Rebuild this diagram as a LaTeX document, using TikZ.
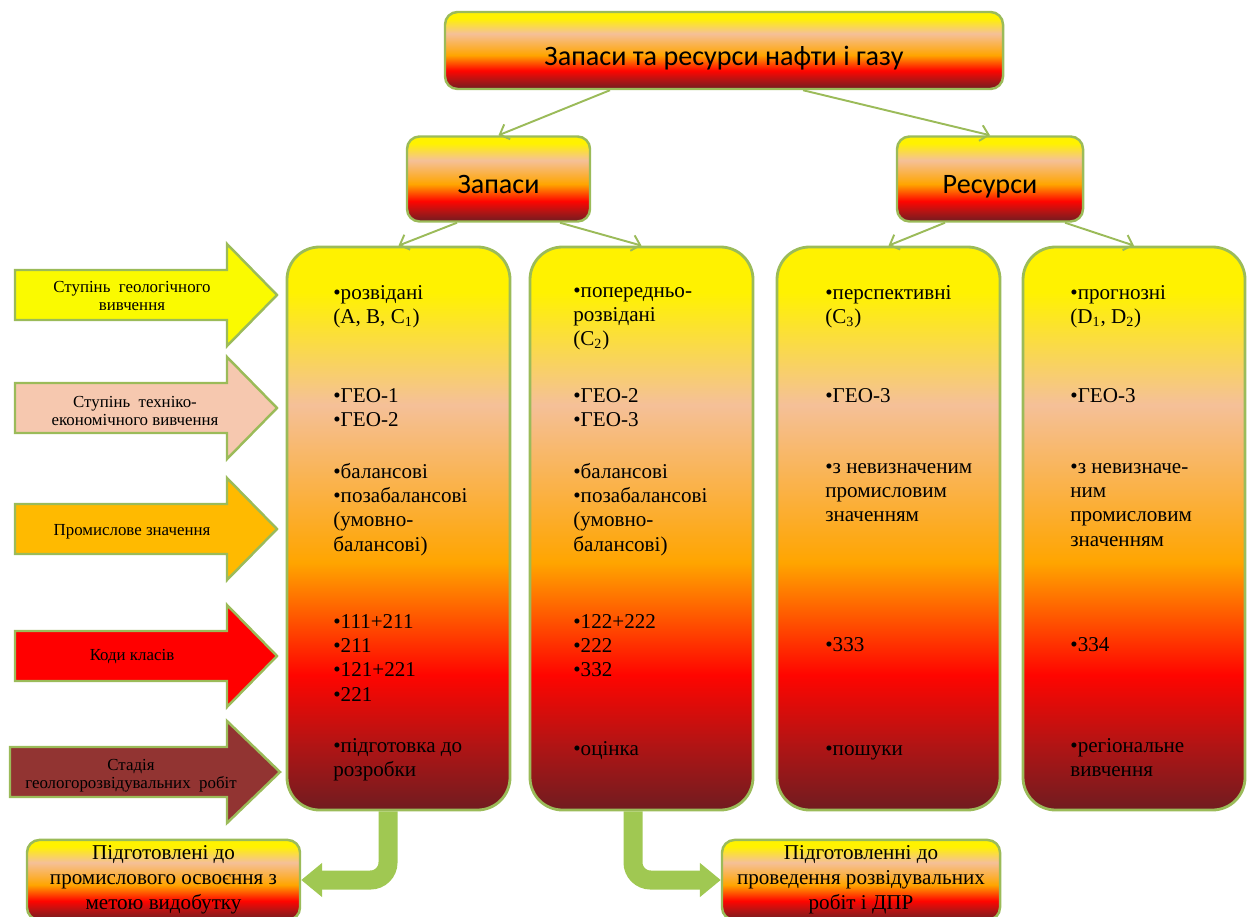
\documentclass[tikz,border=0pt]{standalone}
\usepackage{fontspec}
\setmainfont{Liberation Serif}
\newfontfamily\headfont{Carlito}
\definecolor{linegreen}{RGB}{155,187,89}
\definecolor{bendgreen}{RGB}{160,200,82}
\definecolor{gyellow}{RGB}{255,242,0}
\definecolor{gpeach}{RGB}{245,192,152}
\definecolor{gorange}{RGB}{255,165,0}
\definecolor{gred}{RGB}{255,5,0}
\definecolor{gdark}{RGB}{180,20,20}
\definecolor{gmaroon}{RGB}{112,28,32}
\definecolor{arryellow}{RGB}{250,250,0}
\definecolor{arrpeach}{RGB}{246,200,175}
\definecolor{arrorange}{RGB}{255,186,0}
\definecolor{arrred}{RGB}{255,0,0}
\definecolor{arrmaroon}{RGB}{146,52,50}
\usepackage{tikz}
\usetikzlibrary{arrows.meta, calc}
\pgfdeclareverticalshading{oilgrad}{100bp}{color(0bp)=(gmaroon); color(25bp)=(gmaroon);
  color(31bp)=(gdark); color(37bp)=(gred); color(47bp)=(gorange); color(61bp)=(gpeach);
  color(71bp)=(gyellow); color(100bp)=(gyellow)}

\begin{document}
\begin{tikzpicture}[
  link/.style={-{Straight Barb[length=1.6mm, width=3.2mm]}, line width=1.1pt, linegreen},
  hbox/.style={draw=linegreen, line width=1.4pt, rounded corners=2.5mm, shade, shading=oilgrad,
             align=center, minimum height=1.7cm, text height=18pt, text depth=1pt,
             font=\headfont\fontsize{16}{19}\selectfont},
  col/.style={draw=linegreen, line width=1.6pt, rounded corners=6.5mm, shade, shading=oilgrad,
             minimum width=4.46cm, minimum height=11.26cm},
  item/.style={anchor=north west, inner sep=0pt, align=left, execute at begin node=\strut,
             font=\fontsize{12}{13.8}\selectfont},
  side/.style={draw=linegreen, line width=1.4pt},
  sidetxt/.style={align=center, font=\fontsize{9.6}{10.4}\selectfont},
  ready/.style={draw=linegreen, line width=1.4pt, rounded corners=2.5mm, shade, shading=oilgrad,
             align=center, minimum height=1.5cm, font=\fontsize{12}{14.2}\selectfont},
  bendarrow/.style={line width=0.38cm, bendgreen, rounded corners=3.5mm,
             -{Triangle[length=0.42cm, width=0.66cm]}},
]
\useasboundingbox (0,0) rectangle (25.04,-18.34);

% top of the tree
\node[hbox, minimum width=11.16cm, minimum height=1.54cm] (title) at (14.48,-1.01) {Запаси та ресурси нафти і газу};
\node[hbox, minimum width=3.66cm] (zapasy) at (9.97,-3.58) {Запаси};
\node[hbox, minimum width=3.72cm] (resursy) at (19.8,-3.58) {Ресурси};

% the four columns
\node[col] (col1) at (7.97,-10.57) {};
\node[col] (col2) at (12.83,-10.57) {};
\node[col] (col3) at (17.77,-10.57) {};
\node[col, minimum width=4.44cm] (col4) at (22.68,-10.57) {};

\draw[link] ([xshift=-2.28cm]title.south) -- (zapasy.north);
\draw[link] ([xshift=1.58cm]title.south) -- (resursy.north);
\draw[link] ([xshift=-0.83cm]zapasy.south) -- (col1.north);
\draw[link] ([xshift=1.23cm]zapasy.south) -- (col2.north);
\draw[link] ([xshift=-0.9cm]resursy.south) -- (col3.north);
\draw[link] ([xshift=1.5cm]resursy.south) -- (col4.north);

% arrows on the left
\draw[side, fill=arryellow] (0.3,-5.4) -- ++(4.24,0) -- ++(0,0.52) -- ++(1,-1.02) -- ++(-1,-1.02) -- ++(0,0.52) -- ++(-4.24,0) -- cycle;
\node[sidetxt] (geo) at (2.64,-5.92) {Ступінь~~геологічного\\вивчення};
\draw[side, fill=arrpeach] (0.3,-7.66) -- ++(4.24,0) -- ++(0,0.52) -- ++(1,-1.02) -- ++(-1,-1.02) -- ++(0,0.52) -- ++(-4.24,0) -- cycle;
\node[sidetxt] (teo) at (2.7,-8.22) {Ступінь~~техніко-\\економічного вивчення};
\draw[side, fill=arrorange] (0.3,-10.08) -- ++(4.24,0) -- ++(0,0.52) -- ++(1,-1.02) -- ++(-1,-1.02) -- ++(0,0.52) -- ++(-4.24,0) -- cycle;
\node[sidetxt] (prom) at (2.64,-10.64) {Промислове значення};
\draw[side, fill=arrred] (0.3,-12.62) -- ++(4.24,0) -- ++(0,0.52) -- ++(1,-1.02) -- ++(-1,-1.02) -- ++(0,0.52) -- ++(-4.24,0) -- cycle;
\node[sidetxt] (kod) at (2.64,-13.14) {Коди класів};
\draw[side, fill=arrmaroon] (0.2,-14.94) -- ++(4.34,0) -- ++(0,0.52) -- ++(1.06,-1.02) -- ++(-1.06,-1.02) -- ++(0,0.52) -- ++(-4.34,0) -- cycle;
\node[sidetxt] (stad) at (2.62,-15.52) {Стадія\\геологорозвідувальних~~робіт};

% column texts
\node[item] (c1geo) at (6.66,-5.70) {•розвідані\\(А, В, С\textsubscript{1})};
\node[item] (c1teo) at (6.66,-7.76) {•ГЕО-1\\•ГЕО-2};
\node[item] (c1prom) at (6.66,-9.26) {•балансові\\•позабалансові\\(умовно-\\балансові)};
\node[item] (c1kod) at (6.66,-12.28) {•111+211\\•211\\•121+221\\•221};
\node[item] (c1stad) at (6.66,-14.76) {•підготовка до\\розробки};

\node[item] (c2geo) at (11.46,-5.74) {•попередньо-\\розвідані\\(С\textsubscript{2})};
\node[item] (c2teo) at (11.46,-7.76) {•ГЕО-2\\•ГЕО-3};
\node[item] (c2prom) at (11.46,-9.26) {•балансові\\•позабалансові\\(умовно-\\балансові)};
\node[item] (c2kod) at (11.46,-12.28) {•122+222\\•222\\•332};
\node[item] (c2stad) at (11.46,-14.76) {•оцінка};

\node[item] (c3geo) at (16.5,-5.70) {•перспективні\\(С\textsubscript{3})};
\node[item] (c3teo) at (16.5,-7.70) {•ГЕО-3};
\node[item] (c3prom) at (16.5,-9.26) {•з невизначеним\\промисловим\\значенням};
\node[item] (c3kod) at (16.5,-12.68) {•333};
\node[item] (c3stad) at (16.5,-14.76) {•пошуки};

\node[item] (c4geo) at (21.4,-5.70) {•прогнозні\\(D\textsubscript{1}, D\textsubscript{2})};
\node[item] (c4teo) at (21.4,-7.70) {•ГЕО-3};
\node[item] (c4prom) at (21.4,-9.26) {•з невизначе-\\ним\\промисловим\\значенням};
\node[item] (c4kod) at (21.4,-12.68) {•334};
\node[item] (c4stad) at (21.4,-14.76) {•регіональне\\вивчення};

% bottom boxes
\node[ready, minimum width=5.46cm] (ready1) at (3.27,-17.6) {Підготовлені до\\промислового освоєння з\\метою видобутку};
\node[ready, minimum width=5.56cm] (ready2) at (17.22,-17.6) {Підготовленні до\\проведення розвідувальних\\робіт і ДПР};

\draw[bendarrow] ([xshift=-0.21cm]col1.south) |- (ready1.east);
\draw[bendarrow] ([xshift=-0.17cm]col2.south) |- (ready2.west);
\end{tikzpicture}
\end{document}
